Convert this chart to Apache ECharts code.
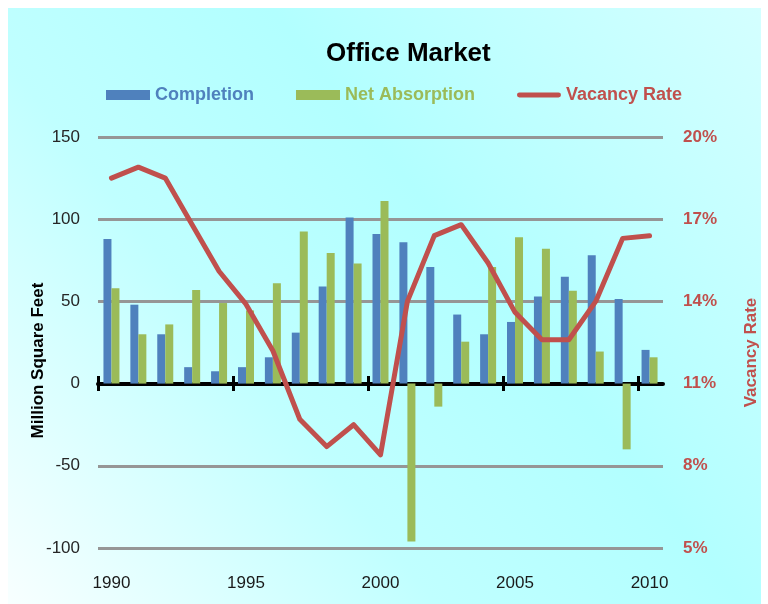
<!DOCTYPE html>
<html>
<head>
<meta charset="utf-8">
<script src="https://cdn.jsdelivr.net/npm/echarts@6/dist/echarts.min.js"></script>
<style>
html,body{margin:0;padding:0;background:#fff;}
#chart{width:768px;height:604px;}
</style>
</head>
<body>
<div id="chart"></div>
<script>
// ---- data ----
const years = ['1990','1991','1992','1993','1994','1995','1996','1997','1998','1999','2000',
               '2001','2002','2003','2004','2005','2006','2007','2008','2009','2010'];
const completion = [88, 48, 30, 10, 7.5, 10, 16, 31, 59, 101, 91, 86, 71, 42, 30, 37.5, 53, 65, 78, 51.5, 20.5];
const netAbsorption = [58, 30, 36, 57, 49, 44.5, 61, 92.5, 79.5, 73, 111, -96, -14, 25.5, 71, 89, 82, 56.5, 19.5, -40, 16];
const vacancyRate = [18.5, 18.9, 18.5, 16.8, 15.1, 13.9, 12.2, 9.7, 8.7, 9.5, 8.4, 14.0, 16.4, 16.8, 15.4, 13.6, 12.6, 12.6, 14.0, 16.3, 16.4];
const leftTicks = {min: -100, max: 150, interval: 50};
const rightTicks = {min: 5, max: 20, interval: 3};
// years that carry a tick on the zero line (every 5th boundary, none at the end)
const tickYears = years.slice(0, years.length - 1);

// ---- style ----
const SANS = "'Liberation Sans', Arial, sans-serif";
const BLUE = '#4f81bd', GREEN = '#9bbb59', RED = '#c0504d';

const chart = echarts.init(document.getElementById('chart'), null, {renderer: 'canvas'});

const catBase = {type: 'category', data: years, boundaryGap: true, splitLine: {show: false}};
const gridTop = 137, gridBottom = 56, chartH = 604;
const zeroY = gridTop + (chartH - gridTop - gridBottom) * leftTicks.max / (leftTicks.max - leftTicks.min);

const tickAxis = (pos, inside) => ({
  type: 'category', data: tickYears, boundaryGap: true, gridIndex: 1, position: pos,
  axisLine: {show: false}, axisLabel: {show: false}, splitLine: {show: false},
  axisTick: {show: true, interval: 4, inside: inside, length: 7, lineStyle: {color: '#000', width: 3}}
});

const option = {
  backgroundColor: '#ffffff',
  animation: false,
  graphic: [{
    type: 'rect', left: 8, top: 8, z: -100, silent: true,
    shape: {width: 753, height: 596},
    style: {fill: new echarts.graphic.LinearGradient(0, 1, 1, 0, [
      {offset: 0, color: '#f8ffff'},
      {offset: 0.35, color: '#c0ffff'},
      {offset: 0.6, color: '#b2ffff'},
      {offset: 1, color: '#d4ffff'}
    ])}
  }],
  title: {
    text: 'Office Market', left: 321, top: 36,
    textStyle: {fontFamily: SANS, fontSize: 26, fontWeight: 'bold', color: '#000'}
  },
  legend: {
    left: 101, top: 81, width: 660, itemWidth: 44, itemHeight: 10, itemGap: 42, selectedMode: false,
    textStyle: {fontFamily: SANS, fontSize: 18, fontWeight: 'bold'},
    data: [
      {name: 'Completion', icon: 'rect', textStyle: {color: BLUE}},
      {name: 'Net Absorption', icon: 'rect', textStyle: {color: GREEN}},
      {name: 'Vacancy Rate', icon: 'path://M2.5,0 L42.5,0 A2.5,2.5 0 0 1 42.5,5 L2.5,5 A2.5,2.5 0 0 1 2.5,0 Z', textStyle: {color: RED}}
    ]
  },
  grid: [
    {left: 98, right: 103, top: gridTop, bottom: gridBottom, containLabel: false},
    {left: 98, right: 768 - 98 - 27 * tickYears.length, top: zeroY - 0.5, height: 1, containLabel: false}
  ],
  xAxis: [
    Object.assign({}, catBase, {
      position: 'bottom',
      axisLine: {show: true, onZero: true, onZeroAxisIndex: 0, lineStyle: {color: '#000', width: 4}},
      axisTick: {show: false},
      axisLabel: {show: false}
    }),
    Object.assign({}, catBase, {
      position: 'bottom',
      axisLine: {show: false, onZero: false},
      axisTick: {show: false},
      axisLabel: {show: true, interval: 4, margin: 27, fontFamily: SANS, fontSize: 17, color: '#1a1a1a'}
    }),
    tickAxis('bottom', false),
    tickAxis('top', false)
  ],
  yAxis: [
    {
      type: 'value', position: 'left',
      min: leftTicks.min, max: leftTicks.max, interval: leftTicks.interval,
      axisLine: {show: false}, axisTick: {show: false},
      axisLabel: {margin: 18, fontFamily: SANS, fontSize: 17, color: '#262626'},
      splitLine: {show: true, lineStyle: {color: '#969696', width: 3}},
      name: 'Million Square Feet', nameLocation: 'middle', nameRotate: 90, nameGap: 51, nameMoveOverlap: false,
      nameTextStyle: {fontFamily: SANS, fontSize: 17, fontWeight: 'bold', color: '#000', padding: [0, 36, 0, 0]}
    },
    {
      type: 'value', position: 'right',
      min: rightTicks.min, max: rightTicks.max, interval: rightTicks.interval,
      axisLine: {show: false}, axisTick: {show: false},
      axisLabel: {margin: 20, fontFamily: SANS, fontSize: 17, fontWeight: 'bold', color: RED, formatter: '{value}%'},
      splitLine: {show: false},
      name: 'Vacancy Rate', nameLocation: 'middle', nameRotate: 90, nameGap: 80, nameMoveOverlap: false,
      nameTextStyle: {fontFamily: SANS, fontSize: 17, fontWeight: 'bold', color: RED, padding: [0, 20, 0, 0]}
    },
    {type: 'value', gridIndex: 1, show: false, min: 0, max: 1}
  ],
  series: [
    {
      name: 'Completion', type: 'bar', xAxisIndex: 0, yAxisIndex: 0,
      data: completion, barWidth: 8, barGap: '0%',
      itemStyle: {color: BLUE}, z: 2
    },
    {
      name: 'Net Absorption', type: 'bar', xAxisIndex: 0, yAxisIndex: 0,
      data: netAbsorption, barWidth: 8, barGap: '0%',
      itemStyle: {color: GREEN}, z: 2
    },
    {
      name: 'Vacancy Rate', type: 'line', xAxisIndex: 0, yAxisIndex: 1,
      data: vacancyRate, showSymbol: false, symbol: 'none',
      itemStyle: {color: RED},
      lineStyle: {color: RED, width: 5, cap: 'round', join: 'round'}, z: 5
    }
  ]
};
chart.setOption(option);
</script>
</body>
</html>
